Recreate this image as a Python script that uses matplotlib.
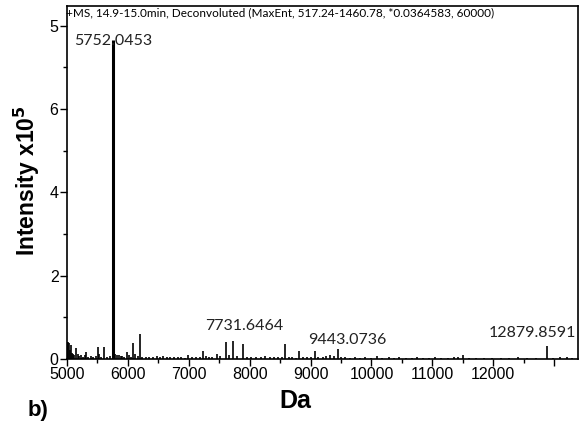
import numpy as np
import matplotlib.pyplot as plt
from matplotlib.ticker import FixedLocator, MultipleLocator

# deconvoluted spectrum, mass (Da) and intensity (x10^5)
mass = [5005, 5015, 5030, 5045, 5060, 5080, 5100, 5120, 5148, 5175, 5200, 5230,
        5260, 5290, 5312, 5350, 5400, 5430, 5470, 5509, 5530, 5560, 5608, 5650,
        5700, 5752.0453, 5790, 5821, 5850, 5880, 5903, 5940, 5985, 6020, 6050,
        6084, 6120, 6160, 6199, 6240, 6300, 6350, 6420, 6480, 6530, 6580, 6640,
        6700, 6760, 6820, 6880, 6940, 6987, 7050, 7120, 7180, 7233, 7280, 7330,
        7390, 7463, 7520, 7611, 7660, 7731.6464, 7800, 7890, 7950, 8020, 8100,
        8180, 8260, 8330, 8400, 8470, 8530, 8580, 8640, 8700, 8760, 8810, 8870,
        8940, 9010, 9072, 9130, 9200, 9260, 9318, 9380, 9443.0736, 9500, 9570,
        9650, 9730, 9810, 9900, 9990, 10090, 10180, 10280, 10370, 10460, 10560,
        10660, 10750, 10850, 10940, 11050, 11150, 11250, 11350, 11420, 11502,
        11600, 11720, 11850, 11980, 12120, 12260, 12400, 12550, 12700, 12879.8591,
        12980, 13100, 13210, 13300]
intensity = [0.42, 0.40, 0.38, 0.22, 0.35, 0.15, 0.12, 0.10, 0.26, 0.12, 0.08, 0.10,
             0.06, 0.09, 0.17, 0.05, 0.07, 0.04, 0.08, 0.30, 0.12, 0.06, 0.30, 0.05,
             0.08, 7.65, 0.12, 0.10, 0.09, 0.07, 0.08, 0.05, 0.18, 0.10, 0.06,
             0.38, 0.12, 0.08, 0.60, 0.05, 0.04, 0.06, 0.05, 0.07, 0.06, 0.08, 0.05,
             0.06, 0.05, 0.04, 0.06, 0.03, 0.10, 0.04, 0.05, 0.06, 0.20, 0.08, 0.06,
             0.05, 0.13, 0.07, 0.41, 0.10, 0.43, 0.08, 0.37, 0.05, 0.04, 0.06,
             0.05, 0.07, 0.04, 0.05, 0.04, 0.06, 0.37, 0.05, 0.04, 0.03, 0.20, 0.05,
             0.04, 0.06, 0.20, 0.05, 0.06, 0.08, 0.10, 0.07, 0.24, 0.05, 0.04,
             0.03, 0.04, 0.03, 0.04, 0.03, 0.07, 0.03, 0.04, 0.03, 0.04, 0.03,
             0.03, 0.04, 0.03, 0.03, 0.04, 0.03, 0.03, 0.04, 0.05, 0.11,
             0.03, 0.03, 0.03, 0.02, 0.03, 0.03, 0.04, 0.03, 0.03, 0.31,
             0.03, 0.04, 0.06, 0.03]

peak_labels = [5752.0453, 7731.6464, 9443.0736, 12879.8591]
label_pos = [(5752, 7.62), (7906, 0.79), (9598, 0.46), (12650, 0.62)]

title = "+MS, 14.9-15.0min, Deconvoluted (MaxEnt, 517.24-1460.78, *0.0364583, 60000)"

fig = plt.figure(figsize=(5.82, 4.23), dpi=100)
ax = fig.add_axes([0.115, 0.151, 0.878, 0.835])

widths = [2.2 if h > 5 else 1.2 for h in intensity]
ax.vlines(mass, 0, intensity, colors='black', linewidth=widths)

for p, (tx, ty) in zip(peak_labels, label_pos):
    ax.text(tx, ty, "%.4f" % p, ha='center', va='center', fontsize=11.5,
            family='Lato', color='#222222')

ax.text(-0.002, 0.997, title, transform=ax.transAxes, ha='left', va='top',
        fontsize=8.5, family='Lato')

ax.set_xlim(5000, 13390)
ax.set_ylim(0, 8.47)
ax.xaxis.set_major_locator(FixedLocator(range(5000, 13001, 1000)))
ax.set_xticklabels([str(v) for v in range(5000, 12001, 1000)] + [''])
ax.xaxis.set_minor_locator(MultipleLocator(500))
ax.yaxis.set_major_locator(FixedLocator([0, 2, 4, 6, 8]))
ax.set_yticklabels(['0', '2', '4', '6', '5'])
ax.yaxis.set_minor_locator(FixedLocator([1, 3, 5, 7]))

ax.tick_params(axis='both', which='major', length=5, width=1, labelsize=11.5, pad=1)
ax.tick_params(axis='both', which='minor', length=3, width=1)
for lbl in ax.get_xticklabels() + ax.get_yticklabels():
    lbl.set_family('Liberation Sans')
for s in ax.spines.values():
    s.set_linewidth(1.2)

fig.text(0.507, 0.052, "Da", ha='center', va='center', fontsize=18,
         fontweight='bold', family='Liberation Sans')
fig.text(0.047, 0.572, r"Intensity x10$^{\mathbf{5}}$", ha='center', va='center',
         rotation=90, fontsize=16.5, fontweight='bold', family='Liberation Sans')
fig.text(0.065, 0.03, "b)", ha='center', va='center', fontsize=16,
         fontweight='bold', family='Liberation Sans')

fig.savefig('out.png', dpi=100)
